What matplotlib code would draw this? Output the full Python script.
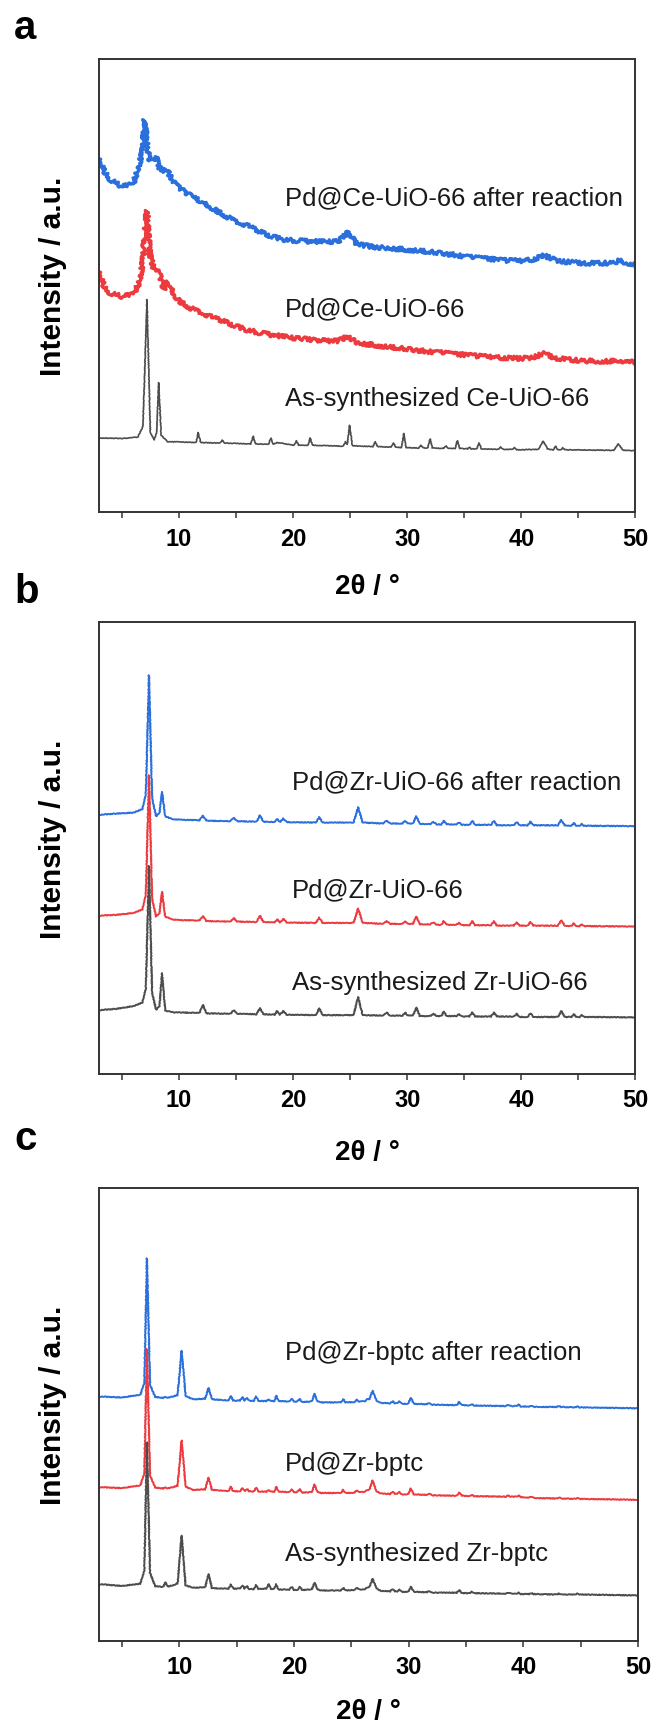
"""XRD patterns of Pd@MOF catalysts before / after reaction (3 stacked panels)."""

import matplotlib
matplotlib.use("Agg")
import matplotlib.pyplot as plt

plt.rcParams['font.family'] = ['Liberation Sans', 'DejaVu Sans']

BLUE = '#2a6fdb'
RED = '#ec3a3e'
GRAY = '#4d4d4d'

# ---------------- panel a : Ce-UiO-66 ----------------
a_labels = ['Pd@Ce-UiO-66 after reaction', 'Pd@Ce-UiO-66', 'As-synthesized Ce-UiO-66']
a_label_y = [69.2, 44.7, 25.1]

a_noisy_x = [3.0, 3.5, 4.0, 5.0, 6.0, 6.5, 6.8, 7.0, 7.2, 7.45,
             7.75, 8.0, 8.3, 8.7, 9.05, 9.5, 10, 11, 12, 13,
             14, 15, 16, 17, 18, 19, 20, 21, 22, 23,
             24, 24.8, 25.6, 27, 28, 29, 30, 31, 32, 33,
             34, 35, 36, 37, 38, 39, 40, 41, 42, 43,
             44, 45, 46, 47, 48, 48.6, 49.2, 50]
a_blue = [77.9, 75.0, 73.3, 71.8, 72.3, 76.5, 79.5, 86.5, 81.0, 77.5,
          77.5, 78.2, 75.8, 75.3, 75.0, 72.8, 71.6, 69.8, 68.4, 66.9,
          65.4, 64.1, 63.2, 61.9, 60.9, 60.2, 59.9, 59.8, 59.7, 59.6,
          59.7, 61.8, 59.1, 58.5, 58.3, 58.1, 57.9, 57.7, 57.4, 57.1,
          56.8, 56.4, 56.1, 55.9, 55.6, 55.5, 55.4, 55.7, 56.6, 55.6,
          55.2, 55.0, 54.9, 54.9, 55.0, 55.5, 55.0, 54.6]
a_red = [53.0, 49.5, 48.3, 47.6, 48.0, 50.5, 54.5, 61.0, 66.5, 57.0,
         54.0, 53.5, 52.5, 49.0, 50.8, 48.3, 46.6, 45.0, 44.0, 42.9,
         42.0, 41.0, 40.2, 39.6, 39.2, 38.8, 38.4, 38.2, 38.0, 37.8,
         37.8, 38.8, 37.4, 36.9, 36.6, 36.3, 36.0, 35.7, 35.4, 35.2,
         34.9, 34.7, 34.5, 34.3, 34.1, 34.0, 33.9, 34.2, 35.0, 34.0,
         33.7, 33.5, 33.4, 33.3, 33.3, 33.6, 33.2, 33.1]

a_black_x = [3.0, 5.0, 6.4, 6.85, 7.2, 7.5, 7.85, 8.05, 8.22, 8.45,
             9.0, 11.5, 11.7, 11.9, 13.6, 13.8, 14.0, 16.3, 16.5, 16.7,
             17.85, 18.05, 18.25, 18.6, 20.1, 20.3, 20.5, 21.3, 21.5, 21.7,
             24.4, 24.6, 24.75, 24.95, 25.2, 27.0, 27.2, 27.4, 28.6, 28.8,
             29.0, 29.5, 29.7, 29.9, 31.0, 31.2, 31.4, 31.8, 32.0, 32.2,
             33.2, 33.4, 33.6, 34.2, 34.4, 34.6, 35.3, 35.45, 35.6, 36.1,
             36.3, 36.5, 38.0, 38.2, 38.4, 39.2, 39.4, 39.6, 41.5, 41.9,
             42.3, 42.8, 43.0, 43.2, 43.5, 43.6, 43.8, 48.1, 48.5, 48.9,
             50.0]
a_black = [16.4, 16.3, 16.6, 19.0, 46.9, 17.5, 16.0, 17.5, 28.6, 17.0,
           15.6, 15.4, 17.6, 15.4, 15.3, 15.9, 15.3, 15.1, 16.8, 15.1,
           15.0, 16.4, 15.0, 15.4, 14.8, 15.8, 14.8, 14.8, 16.4, 14.8,
           14.6, 15.6, 15.0, 19.2, 14.7, 14.5, 15.6, 14.5, 14.4, 15.3,
           14.4, 14.3, 17.4, 14.3, 14.2, 14.8, 14.2, 14.2, 16.2, 14.2,
           14.1, 14.7, 14.1, 14.1, 15.8, 14.1, 14.0, 14.4, 14.0, 14.0,
           15.3, 14.0, 13.9, 14.4, 13.9, 13.9, 14.3, 13.8, 13.9, 15.7,
           14.0, 13.8, 14.6, 13.8, 13.8, 14.3, 13.8, 13.7, 15.1, 13.7,
           13.6]

# ---------------- panel b : Zr-UiO-66 ----------------
b_labels = ['Pd@Zr-UiO-66 after reaction', 'Pd@Zr-UiO-66', 'As-synthesized Zr-UiO-66']
b_label_y = [64.4, 40.7, 20.2]

b_x = [3.0, 4.5, 6.0, 6.8, 7.1, 7.38, 7.65, 8.0, 8.3, 8.52,
       8.8, 9.5, 11.8, 12.1, 12.4, 14.5, 14.8, 15.1, 16.8, 17.1,
       17.4, 18.4, 18.6, 18.85, 19.15, 19.45, 22.0, 22.3, 22.6, 25.3,
       25.7, 26.1, 27.9, 28.2, 28.5, 29.6, 29.8, 30.05, 30.5, 30.8,
       31.1, 32.0, 32.3, 32.6, 33.0, 33.2, 33.45, 34.3, 34.55, 34.8,
       35.45, 35.7, 35.95, 37.35, 37.6, 37.85, 39.35, 39.6, 39.85, 40.55,
       40.8, 41.05, 43.2, 43.5, 43.8, 44.4, 44.6, 44.8, 45.1, 45.3,
       45.5, 50.0]
b_blue = [57.3, 57.6, 57.8, 58.6, 62.0, 88.2, 61.0, 57.0, 57.8, 62.4,
          57.0, 56.3, 56.1, 57.1, 56.0, 55.9, 56.7, 55.9, 55.8, 57.2,
          55.8, 55.7, 56.4, 55.7, 56.5, 55.7, 55.6, 56.8, 55.6, 55.6,
          59.0, 55.6, 55.4, 56.0, 55.4, 55.4, 56.0, 55.4, 55.4, 57.0,
          55.3, 55.3, 55.7, 55.2, 55.2, 56.0, 55.2, 55.2, 55.6, 55.1,
          55.1, 56.0, 55.1, 55.1, 56.0, 55.0, 55.0, 55.7, 55.0, 55.0,
          55.8, 55.0, 55.0, 56.2, 55.0, 54.9, 55.5, 54.9, 54.9, 55.3,
          54.9, 54.8]
b_red = [35.0, 35.2, 35.6, 36.4, 39.8, 66.1, 38.8, 34.8, 35.6, 40.3,
         34.8, 34.1, 33.9, 34.9, 33.8, 33.7, 34.5, 33.7, 33.6, 35.0,
         33.6, 33.5, 34.2, 33.5, 34.3, 33.5, 33.4, 34.6, 33.4, 33.4,
         36.6, 33.4, 33.2, 33.8, 33.2, 33.2, 33.8, 33.2, 33.2, 34.8,
         33.1, 33.1, 33.5, 33.0, 33.0, 33.8, 33.0, 33.0, 33.4, 32.9,
         32.9, 33.8, 32.9, 32.9, 33.8, 32.8, 32.8, 33.5, 32.8, 32.8,
         33.6, 32.8, 32.8, 34.0, 32.8, 32.7, 33.3, 32.7, 32.7, 33.1,
         32.7, 32.6]
b_black = [14.1, 14.4, 15.0, 15.8, 19.0, 46.0, 18.0, 14.2, 15.0, 22.3,
           14.0, 13.6, 13.5, 15.3, 13.4, 13.3, 14.1, 13.3, 13.2, 14.6,
           13.2, 13.1, 13.9, 13.1, 13.9, 13.1, 13.0, 14.5, 13.0, 13.0,
           17.0, 13.0, 12.9, 13.6, 12.9, 12.9, 13.6, 12.9, 12.9, 14.7,
           12.8, 12.8, 13.3, 12.8, 12.8, 13.8, 12.8, 12.8, 13.2, 12.7,
           12.7, 13.6, 12.7, 12.7, 13.6, 12.7, 12.7, 13.3, 12.6, 12.6,
           13.4, 12.6, 12.6, 13.9, 12.6, 12.6, 13.2, 12.6, 12.6, 13.0,
           12.6, 12.5]

# ---------------- panel c : Zr-bptc ----------------
c_labels = ['Pd@Zr-bptc after reaction', 'Pd@Zr-bptc', 'As-synthesized Zr-bptc']
c_label_y = [63.4, 38.9, 19.1]

c_x = [3.0, 5.0, 6.6, 6.95, 7.18, 7.45, 7.9, 8.6, 8.8, 9.0,
       9.85, 10.2, 10.55, 11.2, 12.25, 12.55, 12.85, 14.3, 14.5, 14.7,
       15.3, 15.5, 15.7, 15.9, 16.1, 16.5, 16.7, 16.9, 17.6, 17.8,
       18.0, 18.3, 18.45, 18.65, 19.6, 19.8, 20.0, 20.3, 20.5, 20.7,
       21.55, 21.8, 22.05, 22.4, 24.1, 24.3, 24.5, 25.3, 25.5, 25.7,
       26.2, 26.4, 26.6, 26.85, 27.2, 27.6, 28.4, 28.6, 28.8, 29.0,
       29.2, 29.4, 29.95, 30.2, 30.45, 31.6, 31.8, 32.0, 34.2, 34.4,
       34.65, 35.3, 35.5, 35.7, 38.5, 38.7, 38.9, 39.4, 39.6, 39.8,
       40.5, 40.7, 40.9, 42.9, 43.1, 43.3, 44.5, 44.7, 44.9, 50.0]
c_blue = [53.9, 53.7, 54.3, 57.0, 84.4, 56.5, 53.8, 53.6, 53.8, 53.6,
          54.2, 64.0, 54.0, 53.3, 53.4, 55.8, 53.3, 53.0, 54.0, 53.0,
          53.0, 53.8, 53.0, 53.6, 53.0, 52.9, 53.9, 52.9, 52.9, 53.3,
          52.9, 52.9, 54.1, 52.9, 52.8, 53.4, 52.8, 52.8, 53.4, 52.7,
          52.8, 54.5, 52.8, 52.6, 52.6, 53.3, 52.6, 52.7, 53.2, 52.8,
          52.9, 53.3, 53.4, 55.2, 53.0, 52.5, 52.4, 52.9, 52.4, 52.4,
          52.8, 52.3, 52.3, 53.6, 52.3, 52.2, 52.5, 52.1, 52.0, 52.7,
          52.0, 51.9, 52.2, 51.9, 51.8, 52.1, 51.8, 51.8, 52.1, 51.7,
          51.7, 51.9, 51.6, 51.6, 51.8, 51.6, 51.5, 51.7, 51.5, 51.3]
c_red = [33.9, 33.7, 34.3, 37.0, 64.4, 36.5, 33.8, 33.6, 33.8, 33.6,
         34.2, 44.2, 34.0, 33.3, 33.4, 36.0, 33.3, 33.0, 34.0, 33.0,
         33.0, 33.7, 33.0, 33.5, 33.0, 32.9, 33.8, 32.9, 32.9, 33.3,
         32.9, 32.9, 34.0, 32.9, 32.8, 33.4, 32.8, 32.8, 33.5, 32.7,
         32.8, 34.5, 32.8, 32.6, 32.6, 33.3, 32.6, 32.7, 33.2, 32.8,
         32.9, 33.3, 33.4, 35.4, 33.0, 32.5, 32.4, 32.9, 32.4, 32.4,
         32.8, 32.3, 32.3, 33.6, 32.3, 32.2, 32.5, 32.1, 32.0, 32.7,
         32.0, 31.9, 32.2, 31.9, 31.8, 32.1, 31.8, 31.8, 32.1, 31.7,
         31.6, 31.8, 31.5, 31.4, 31.6, 31.4, 31.3, 31.5, 31.3, 31.1]
c_black = [12.5, 12.1, 12.6, 15.5, 43.8, 15.0, 12.0, 11.9, 12.9, 11.9,
           12.6, 23.2, 12.2, 11.7, 11.8, 14.7, 11.6, 11.5, 12.4, 11.5,
           11.5, 12.2, 11.5, 12.1, 11.4, 11.4, 12.3, 11.4, 11.5, 12.5,
           11.4, 11.5, 12.5, 11.3, 11.3, 11.9, 11.2, 11.2, 11.9, 11.2,
           11.3, 12.8, 11.3, 11.1, 11.1, 11.7, 11.1, 11.2, 11.7, 11.3,
           11.4, 11.8, 11.9, 13.7, 11.5, 11.0, 10.9, 11.4, 10.9, 10.9,
           11.3, 10.8, 10.8, 11.9, 10.8, 10.7, 11.0, 10.6, 10.6, 11.2,
           10.5, 10.5, 10.8, 10.5, 10.4, 10.6, 10.4, 10.4, 10.6, 10.3,
           10.3, 10.5, 10.3, 10.2, 10.4, 10.2, 10.2, 10.4, 10.2, 10.0]


def style_axes(ax, xlabel_y, label_x):
    ax.set_xlim(3, 50)
    ax.set_ylim(0, 100)
    ax.set_xticks([10, 20, 30, 40, 50])
    ax.set_xticks([5, 15, 25, 35, 45], minor=True)
    ax.set_yticks([])
    ax.tick_params(axis='x', which='both', direction='out', length=4, width=1.1,
                   color='#333333', pad=7, labelsize=17)
    for lab in ax.get_xticklabels():
        lab.set_fontweight('bold')
    for sp in ax.spines.values():
        sp.set_linewidth(1.4)
        sp.set_color('#333333')
    ax.set_xlabel('2θ / °', fontsize=20, fontweight='bold')
    ax.xaxis.set_label_coords(0.5, xlabel_y)
    ax.set_ylabel('Intensity / a.u.', fontsize=21.5, fontweight='bold')
    ax.yaxis.set_label_coords(label_x, 0.52)


def add_labels(ax, x, labels, ys):
    for text, y in zip(labels, ys):
        ax.text(x, y, text, fontsize=18.5, ha='left', va='center', color='#1a1a1a')


def trace(ax, x, y, color, lw, sketch):
    line, = ax.plot(x, y, color=color, lw=lw)
    line.set_sketch_params(*sketch)
    return line


fig = plt.figure(figsize=(6.54, 17.26), dpi=100)

noisy = (2.0, 0.8, 2.0)
smooth = (0.4, 3.0, 2.0)

# panel a
ax = fig.add_axes([0.1514, 0.7031, 0.8203, 0.2630])
trace(ax, a_noisy_x, a_blue, BLUE, 2.4, noisy)
trace(ax, a_noisy_x, a_red, RED, 2.4, noisy)
trace(ax, a_black_x, a_black, GRAY, 1.2, (0.3, 2.0, 2.0))
add_labels(ax, 19.3, a_labels, a_label_y)
style_axes(ax, -0.135, -0.06)

# panel b
ax = fig.add_axes([0.1514, 0.3778, 0.8203, 0.2619])
trace(ax, b_x, b_blue, BLUE, 1.4, smooth)
trace(ax, b_x, b_red, RED, 1.4, smooth)
trace(ax, b_x, b_black, GRAY, 1.4, smooth)
add_labels(ax, 19.9, b_labels, b_label_y)
style_axes(ax, -0.146, -0.06)

# panel c
ax = fig.add_axes([0.1514, 0.0494, 0.8241, 0.2625])
trace(ax, c_x, c_blue, BLUE, 1.4, smooth)
trace(ax, c_x, c_red, RED, 1.4, smooth)
trace(ax, c_x, c_black, GRAY, 1.4, smooth)
add_labels(ax, 19.2, c_labels, c_label_y)
style_axes(ax, -0.128, -0.06)

# panel letters
for letter, y_px in zip(['a', 'b', 'c'], [39, 603, 1150]):
    fig.text(14 / 654, 1 - y_px / 1726, letter, fontsize=29, fontweight='bold',
             ha='left', va='baseline')

fig.savefig('out.png', dpi=100)
